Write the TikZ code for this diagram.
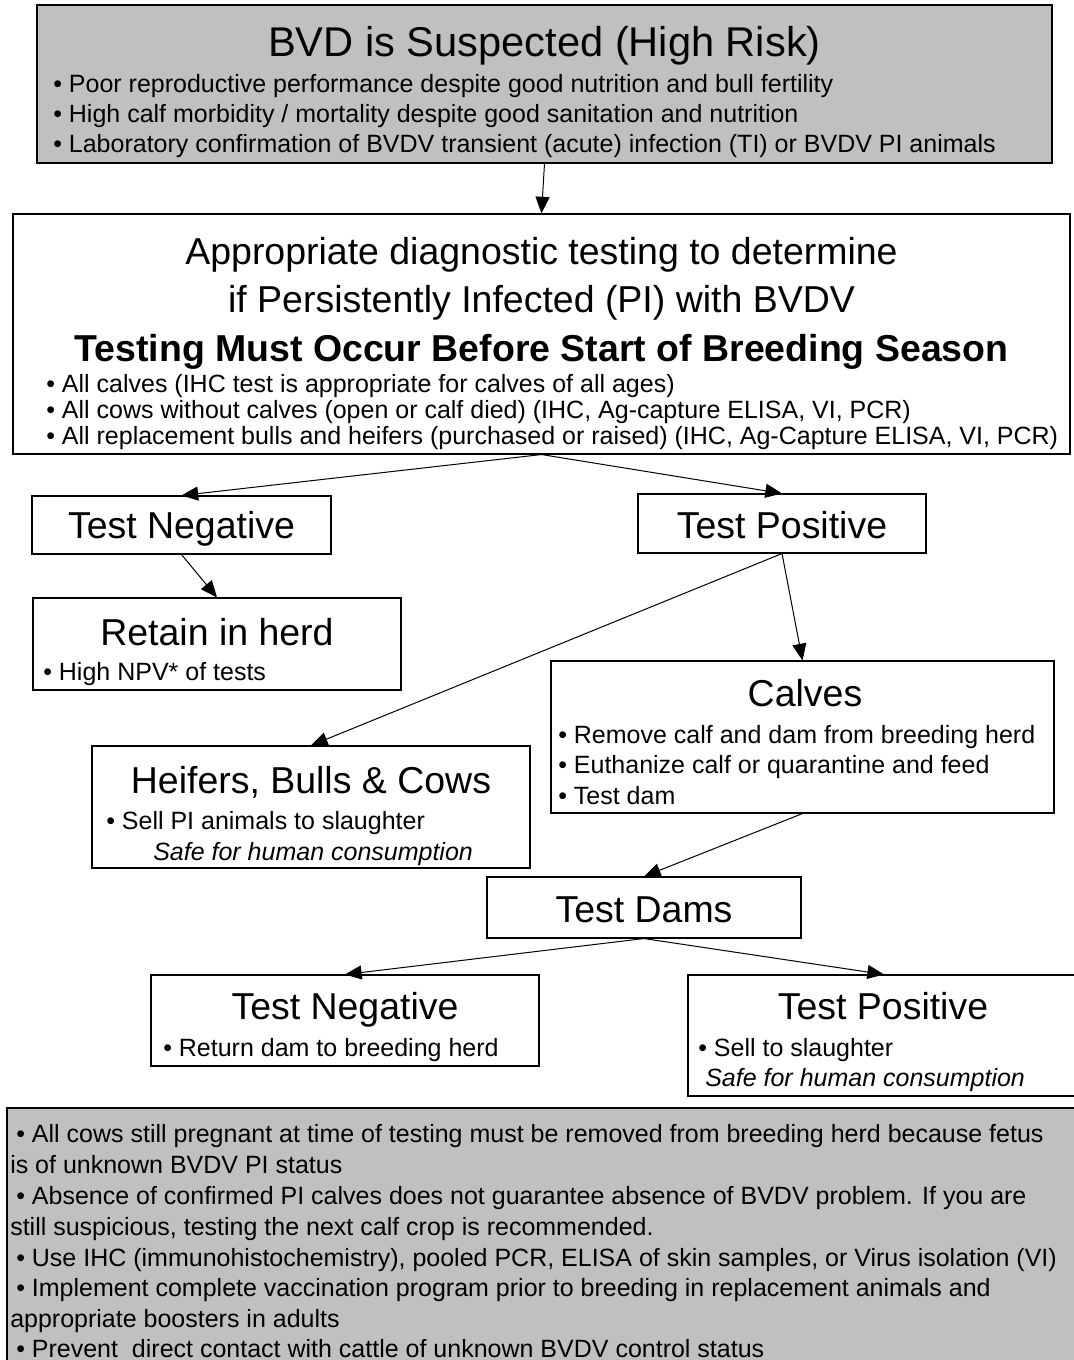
\documentclass[tikz,border=0pt]{standalone}
\usepackage{fontspec}
\setmainfont{Liberation Sans}
\usetikzlibrary{arrows.meta, fit}

\definecolor{boxgray}{HTML}{C0C0C0}

\tikzset{
  box/.style={draw, line width=0.8pt, inner sep=0pt},
  graybox/.style={box, fill=boxgray},
  head/.style={anchor=base, inner sep=0pt, font=\fontsize{28.1}{34}\selectfont},
  bighead/.style={head, font=\fontsize{31.2}{37}\selectfont},
  item/.style={anchor=base west, inner sep=0pt, font=\fontsize{18.75}{23}\selectfont},
  note/.style={item, font=\fontsize{18.75}{23}\selectfont\itshape},
  link/.style={-{Triangle[length=12.5pt, width=10.5pt]}, line width=0.75pt},
}

\begin{document}
\begin{tikzpicture}[x=0.75pt, y=-0.75pt]
\useasboundingbox (0,0) rectangle (1074,1360);

% boxes
\node[graybox, fit={(37,5) (1052,163)}]  (top)    {};
\node[box, fit={(13,214) (1070,454)}]    (diag)   {};
\node[box, fit={(32,496) (331,554)}]     (neg)    {};
\node[box, fit={(638,494) (926,553)}]    (pos)    {};
\node[box, fit={(33,598) (401,690)}]     (retain) {};
\node[box, fit={(551,661) (1054,813)}]   (calves) {};
\node[box, fit={(92,746) (530,868)}]     (adults) {};
\node[box, fit={(487,877) (801,938)}]    (dams)   {};
\node[box, fit={(151,975) (539,1066)}]   (damneg) {};
\node[box, fit={(688,975) (1080,1096)}]  (dampos) {};
\node[graybox, fit={(7,1108) (1090,1370)}] (notes) {};

% top box
\node[bighead] (topT) at (544.5,56) {BVD is Suspected (High Risk)};
\node[item] (top1) at (53,92)  {• Poor reproductive performance despite good nutrition and bull fertility};
\node[item] (top2) at (53,122) {• High calf morbidity / mortality despite good sanitation and nutrition};
\node[item] (top3) at (53,152) {• Laboratory confirmation of BVDV transient (acute) infection (TI) or BVDV PI animals};

% diagnostic testing
\node[head] (diagT1) at (541.5,264) {Appropriate diagnostic testing to determine};
\node[head] (diagT2) at (541.5,312) {if Persistently Infected (PI) with BVDV};
\node[head, font=\fontsize{28.1}{34}\selectfont\bfseries] (diagT3) at (541.5,361) {Testing Must Occur Before Start of Breeding Season};
\node[item] (diag1) at (46,392) {• All calves (IHC test is appropriate for calves of all ages)};
\node[item] (diag2) at (46,418) {• All cows without calves (open or calf died) (IHC, Ag-capture ELISA, VI, PCR)};
\node[item] (diag3) at (46,444) {• All replacement bulls and heifers (purchased or raised) (IHC, Ag-Capture ELISA, VI, PCR)};

% first results
\node[head] (negT) at (181.5,538) {Test Negative};
\node[head] (posT) at (782,538)   {Test Positive};

\node[head] (retainT) at (217,645) {Retain in herd};
\node[item] (retain1) at (43,680)  {• High NPV* of tests};

\node[head] (calvesT) at (805,706) {Calves};
\node[item] (calves1) at (558,743) {• Remove calf and dam from breeding herd};
\node[item] (calves2) at (558,773) {• Euthanize calf or quarantine and feed};
\node[item] (calves3) at (558,804) {• Test dam};

\node[head] (adultsT) at (311,793) {Heifers, Bulls \& Cows};
\node[item] (adults1) at (106,829) {• Sell PI animals to slaughter};
\node[note] (adults2) at (153,860) {Safe for human consumption};

% dams
\node[head] (damsT) at (644,922) {Test Dams};

\node[head] (damnegT) at (345,1019) {Test Negative};
\node[item] (damneg1) at (163,1056) {• Return dam to breeding herd};

\node[head] (damposT) at (883,1019) {Test Positive};
\node[item] (dampos1) at (698,1056) {• Sell to slaughter};
\node[note] (dampos2) at (705,1086) {Safe for human consumption};

% notes
\node[item] (note1) at (16,1142) {• All cows still pregnant at time of testing must be removed from breeding herd because fetus};
\node[item] (note2) at (10,1173) {is of unknown BVDV PI status};
\node[item] (note3) at (16,1204) {• Absence of confirmed PI calves does not guarantee absence of BVDV problem. If you are};
\node[item] (note4) at (10,1235) {still suspicious, testing the next calf crop is recommended.};
\node[item] (note5) at (16,1266) {• Use IHC (immunohistochemistry), pooled PCR, ELISA of skin samples, or Virus isolation (VI)};
\node[item] (note6) at (16,1296) {• Implement complete vaccination program prior to breeding in replacement animals and};
\node[item] (note7) at (10,1327) {appropriate boosters in adults};
\node[item] (note8) at (16,1357) {• Prevent\ \ direct contact with cattle of unknown BVDV control status};

% arrows
\draw[link] (top.south)    -- (diag.north);
\draw[link] (diag.south)   -- (neg.north);
\draw[link] (diag.south)   -- (pos.north);
\draw[link] (neg.south)    -- (retain.north);
\draw[link] (pos.south)    -- (calves.north);
\draw[link] (pos.south)    -- (adults.north);
\draw[link] (calves.south) -- (dams.north);
\draw[link] (dams.south)   -- (damneg.north);
\draw[link] (dams.south)   -- (dampos.north);
\end{tikzpicture}
\end{document}
